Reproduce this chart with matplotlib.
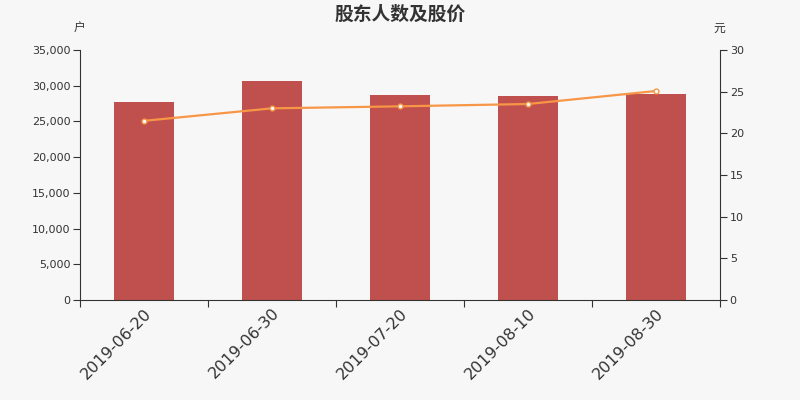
import matplotlib
matplotlib.use("Agg")
import matplotlib.pyplot as plt
from matplotlib.ticker import FuncFormatter, FixedLocator

dates = ["2019-06-20", "2019-06-30", "2019-07-20", "2019-08-10", "2019-08-30"]
holders = [27720, 30650, 28700, 28600, 28800]
prices = [21.5, 23.0, 23.24, 23.52, 25.08]

plt.rcParams['font.family'] = ['DejaVu Sans', 'Noto Sans CJK SC']
bg = '#f7f7f7'
txt = '#333333'

fig = plt.figure(figsize=(8, 4), dpi=100, facecolor=bg)
ax = fig.add_axes([0.1, 0.25, 0.8, 0.625])
ax.set_facecolor(bg)
x = list(range(len(dates)))
ax.bar(x, holders, width=0.47, color='#c0504d', zorder=2)
ax.set_xlim(-0.5, len(dates) - 0.5)
ax.set_ylim(0, 35000)
ax.set_yticks(range(0, 35001, 5000))
ax.yaxis.set_major_formatter(FuncFormatter(lambda v, p: f"{int(v):,}"))
ax.set_xticks(x)
ax.set_xticklabels(dates, rotation=45, ha='right', rotation_mode='anchor', fontsize=11.5, color=txt)
ax.tick_params(axis='x', which='major', length=0, pad=4)
ax.xaxis.set_minor_locator(FixedLocator([i - 0.5 for i in range(len(dates) + 1)]))
ax.tick_params(axis='x', which='minor', length=5, width=0.8, color=txt)
ax.tick_params(axis='y', length=5, width=0.8, color=txt, labelcolor=txt, labelsize=8, pad=2)
for s in ['top', 'right']:
    ax.spines[s].set_visible(False)
for s in ['left', 'bottom']:
    ax.spines[s].set_color(txt)
    ax.spines[s].set_linewidth(0.8)

ax2 = ax.twinx()
ax2.plot(x, prices, color='#f79646', lw=1.6, marker='o', markersize=3.5,
         markerfacecolor='white', markeredgecolor='#f79646', markeredgewidth=1, zorder=3)
ax2.set_ylim(0, 30)
ax2.set_yticks(range(0, 31, 5))
ax2.tick_params(axis='y', length=5, width=0.8, color=txt, labelcolor=txt, labelsize=8, pad=2)
for s in ['top', 'left', 'bottom']:
    ax2.spines[s].set_visible(False)
ax2.spines['right'].set_color(txt)
ax2.spines['right'].set_linewidth(0.8)

cjk = ['Noto Sans CJK SC', 'DejaVu Sans']
fig.text(0.5, 0.965, "股东人数及股价", ha='center', va='center', fontsize=13.5,
         fontweight='bold', color=txt, family=cjk)
fig.text(0.099, 0.93, "户", ha='center', va='center', fontsize=8.5, color=txt,
         fontweight='medium', family=cjk)
fig.text(0.899, 0.93, "元", ha='center', va='center', fontsize=8.5, color=txt,
         fontweight='medium', family=cjk)

fig.savefig("out.png", dpi=100, facecolor=bg)
